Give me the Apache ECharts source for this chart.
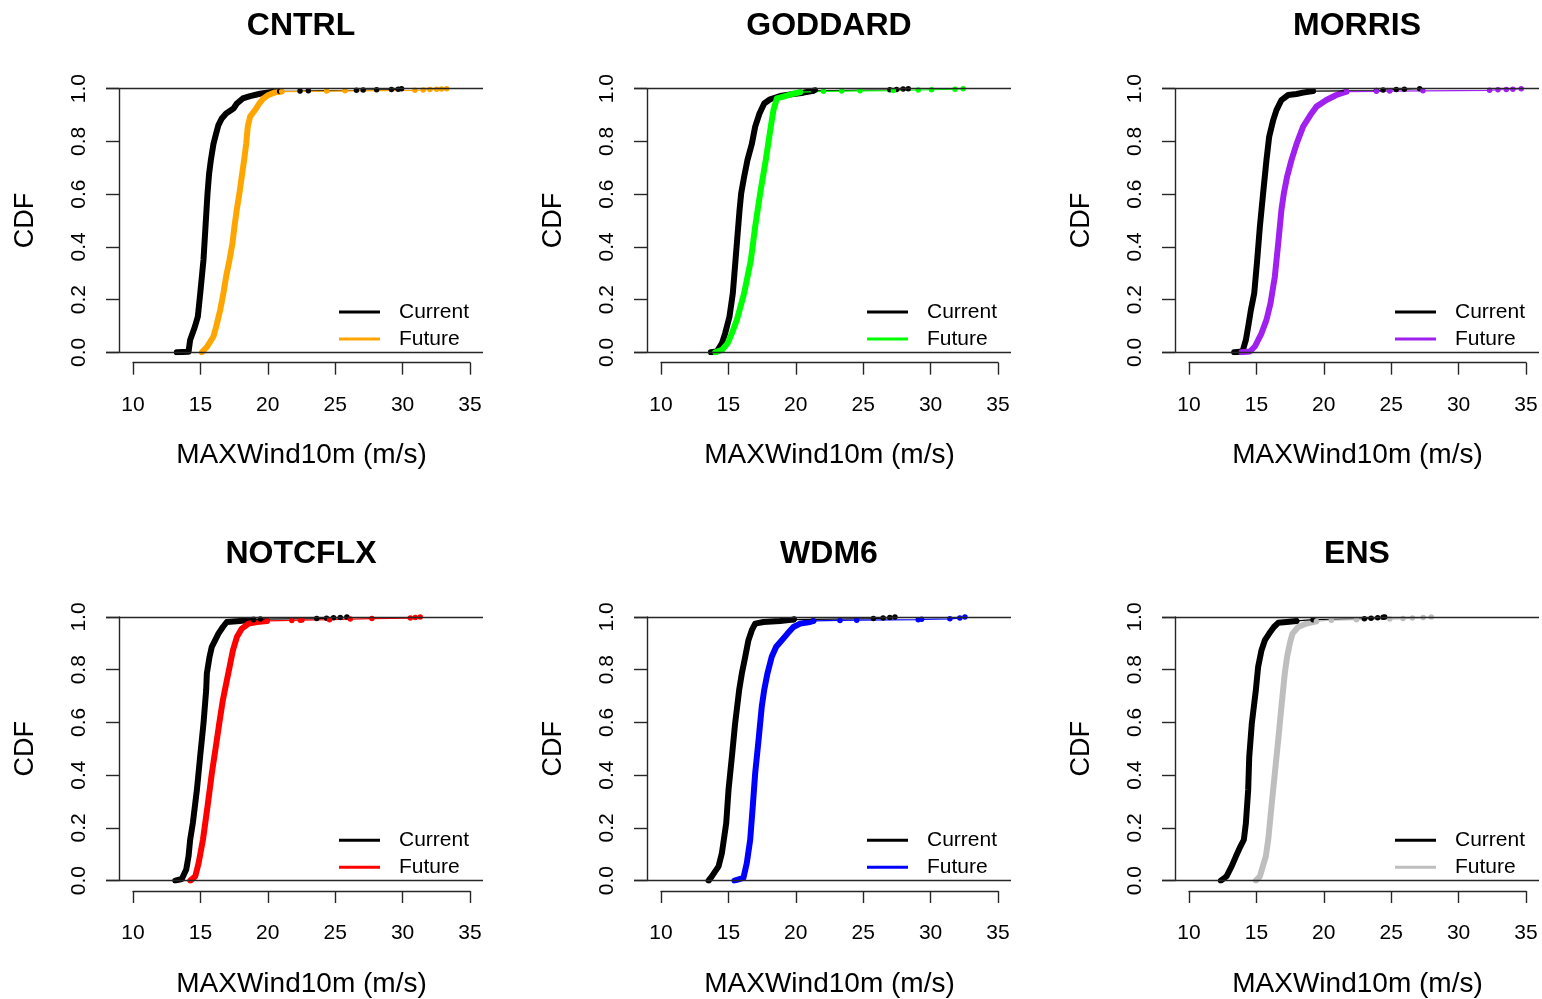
<!DOCTYPE html>
<html>
<head>
<meta charset="utf-8">
<script src="https://cdn.jsdelivr.net/npm/echarts@6/dist/echarts.min.js"></script>
<style>
  html, body { margin: 0; padding: 0; background: #ffffff; }
  #chart { width: 1542px; height: 999px; }
</style>
</head>
<body>
<div id="chart"></div>
<script>
// Panels, axis ticks and labels
const panels = ['CNTRL', 'GODDARD', 'MORRIS', 'NOTCFLX', 'WDM6', 'ENS'];
const xTicks = [10, 15, 20, 25, 30, 35];
const yTicks = [0.0, 0.2, 0.4, 0.6, 0.8, 1.0];
const seriesNames = ['Current', 'Future'];
const xLabel = 'MAXWind10m (m/s)';
const yLabel = 'CDF';

// Empirical CDF knots [max 10 m wind (m/s), F]: dense body, then the sparse upper tail
const cntrlCurrent = [[13.26,0],[14.13,0.002],[14.25,0.047],[14.6,0.097],[14.82,0.135],[15.0,0.224],[15.24,0.35],[15.39,0.477],[15.54,0.603],[15.66,0.679],[15.79,0.73],[15.98,0.79],[16.18,0.83],[16.35,0.862],[16.6,0.887],[16.92,0.906],[17.47,0.925],[17.72,0.944],[18.16,0.963],[18.7,0.972],[19.44,0.981],[20.19,0.987],[20.9,0.99]];
const cntrlCurrentTail = [[22.41,0.991],[23.03,0.992],[26.6,0.994],[27.1,0.995],[28.1,0.996],[29.2,0.997],[29.7,0.998],[29.95,1.0]];
const cntrlFuture = [[15.12,0],[15.49,0.02],[15.98,0.06],[16.18,0.097],[16.48,0.16],[16.72,0.224],[16.92,0.287],[17.17,0.35],[17.39,0.413],[17.54,0.477],[17.71,0.54],[17.91,0.603],[18.08,0.666],[18.26,0.73],[18.41,0.79],[18.53,0.856],[18.7,0.894],[19.07,0.919],[19.39,0.944],[19.69,0.963],[20.06,0.976],[20.56,0.986],[21.05,0.989]];
const cntrlFutureTail = [[24.39,0.991],[25.75,0.992],[30.94,0.994],[31.56,0.995],[32.06,0.997],[32.55,0.998],[32.92,0.999],[33.3,1.0]];

const goddardCurrent = [[13.71,0],[14.15,0.003],[14.53,0.034],[14.77,0.072],[15.09,0.135],[15.34,0.224],[15.54,0.35],[15.74,0.477],[15.84,0.54],[15.96,0.603],[16.18,0.666],[16.43,0.73],[16.75,0.79],[17.0,0.856],[17.32,0.906],[17.67,0.944],[18.11,0.96],[18.85,0.972],[19.84,0.98],[20.58,0.985],[21.33,0.992]];
const goddardCurrentTail = [[21.46,0.995],[27.0,0.996],[27.5,0.997],[27.99,0.999],[28.37,1.0]];
const goddardFuture = [[14.03,0],[14.53,0.009],[14.95,0.034],[15.27,0.072],[15.64,0.123],[16.18,0.224],[16.68,0.35],[17.0,0.477],[17.37,0.603],[17.79,0.73],[18.16,0.856],[18.36,0.919],[18.61,0.963],[19.1,0.97],[19.84,0.981],[20.34,0.987]];
const goddardFutureTail = [[22.07,0.99],[23.43,0.991],[24.79,0.992],[27.26,0.993],[29.11,0.995],[30.1,0.996],[31.84,0.998],[32.45,1.0]];

const morrisCurrent = [[13.36,0],[13.98,0.003],[14.23,0.047],[14.4,0.097],[14.6,0.16],[14.85,0.224],[15.07,0.35],[15.27,0.477],[15.51,0.603],[15.76,0.73],[15.96,0.818],[16.26,0.881],[16.5,0.919],[16.87,0.957],[17.37,0.976],[17.99,0.98],[18.48,0.985],[19.22,0.991]];
const morrisCurrentTail = [[23.92,0.993],[24.42,0.995],[25.4,0.997],[26.0,0.998],[27.14,1.0]];
const morrisFuture = [[13.91,0],[14.53,0.003],[14.9,0.022],[15.39,0.072],[15.76,0.123],[16.06,0.186],[16.38,0.287],[16.63,0.413],[16.87,0.54],[17.05,0.603],[17.29,0.666],[17.62,0.73],[17.99,0.79],[18.48,0.856],[19.1,0.906],[19.47,0.932],[20.21,0.957],[20.95,0.976],[21.7,0.989]];
const morrisFutureTail = [[23.92,0.99],[24.91,0.991],[27.38,0.992],[32.33,0.994],[32.95,0.996],[33.57,0.997],[34.06,0.998],[34.68,1.0]];

const notcflxCurrent = [[13.14,0],[13.63,0.006],[13.96,0.042],[14.13,0.092],[14.25,0.155],[14.45,0.218],[14.75,0.344],[14.99,0.47],[15.24,0.596],[15.44,0.723],[15.49,0.786],[15.69,0.849],[15.86,0.887],[16.11,0.912],[16.35,0.937],[16.68,0.962],[16.97,0.981],[17.47,0.983],[17.96,0.985],[18.96,0.99]];
const notcflxCurrentTail = [[19.46,0.992],[23.65,0.994],[24.38,0.995],[24.9,0.997],[25.4,0.998],[25.89,1.0]];
const notcflxFuture = [[14.26,0],[14.63,0.016],[14.88,0.067],[15.2,0.155],[15.54,0.281],[15.86,0.407],[16.23,0.533],[16.41,0.596],[16.68,0.685],[16.93,0.748],[17.18,0.811],[17.43,0.874],[17.72,0.924],[18.09,0.956],[18.59,0.975],[19.21,0.981],[19.95,0.985]];
const notcflxFutureTail = [[21.8,0.987],[22.43,0.988],[22.55,0.989],[24.6,0.99],[26.14,0.992],[27.75,0.994],[30.6,0.996],[30.97,0.998],[31.34,1.0]];

const wdm6Current = [[13.54,0],[13.78,0.016],[14.28,0.054],[14.53,0.105],[14.85,0.218],[15.02,0.344],[15.27,0.47],[15.51,0.596],[15.81,0.723],[16.01,0.786],[16.26,0.849],[16.5,0.912],[16.75,0.95],[17.0,0.975],[17.62,0.981],[18.85,0.985],[19.84,0.99]];
const wdm6CurrentTail = [[19.9,0.992],[25.78,0.994],[26.5,0.996],[27.0,0.998],[27.38,1.0]];
const wdm6Future = [[15.46,0],[16.13,0.01],[16.38,0.067],[16.63,0.155],[16.82,0.281],[17.0,0.407],[17.25,0.533],[17.49,0.66],[17.67,0.723],[17.91,0.786],[18.23,0.849],[18.56,0.887],[18.98,0.912],[19.4,0.937],[19.84,0.962],[20.34,0.975],[21.08,0.981],[21.33,0.985]];
const wdm6FutureTail = [[23.3,0.987],[24.54,0.988],[29.11,0.99],[29.36,0.991],[31.46,0.993],[32.2,0.996],[32.58,1.0]];

const ensCurrent = [[12.37,0],[12.79,0.016],[13.17,0.054],[13.49,0.092],[13.83,0.13],[14.08,0.155],[14.23,0.218],[14.4,0.344],[14.48,0.47],[14.67,0.596],[14.97,0.723],[15.14,0.811],[15.39,0.874],[15.64,0.912],[15.96,0.937],[16.31,0.962],[16.63,0.978],[17.25,0.981],[17.99,0.985]];
const ensCurrentTail = [[19.22,0.99],[23.03,0.993],[23.53,0.995],[24.02,0.997],[24.42,0.999],[24.54,1.0]];
const ensFuture = [[14.97,0],[15.27,0.016],[15.71,0.092],[15.89,0.155],[16.13,0.281],[16.38,0.407],[16.63,0.533],[16.87,0.66],[17.12,0.786],[17.29,0.849],[17.49,0.899],[17.69,0.937],[18.11,0.962],[18.73,0.975],[19.47,0.984]];
const ensFutureTail = [[20.58,0.988],[22.44,0.99],[24.91,0.992],[25.9,0.994],[26.6,0.996],[27.4,0.998],[28.0,1.0]];

// Curves per panel, in panel order: [current body, current tail, future body, future tail]
const panelCurves = [
  [cntrlCurrent, cntrlCurrentTail, cntrlFuture, cntrlFutureTail],
  [goddardCurrent, goddardCurrentTail, goddardFuture, goddardFutureTail],
  [morrisCurrent, morrisCurrentTail, morrisFuture, morrisFutureTail],
  [notcflxCurrent, notcflxCurrentTail, notcflxFuture, notcflxFutureTail],
  [wdm6Current, wdm6CurrentTail, wdm6Future, wdm6FutureTail],
  [ensCurrent, ensCurrentTail, ensFuture, ensFutureTail]
];

// Styling
const FONT = '"Liberation Sans", Arial, Helvetica, sans-serif';
const INK = '#000000';
const AXIS = '#262626';
const currentColor = '#000000';
const futureColors = ['#FFA500', '#00FF00', '#A020F0', '#FF0000', '#0000FF', '#BEBEBE'];

// Panel geometry (pixels)
const COL_STEP = 528, ROW_STEP = 528.3;
const PLOT_L = 106, PLOT_W = 377, PLOT_T = 88.7, PLOT_H = 263.6;
const X_PAD_LEFT = 2, X_PAD_RIGHT = 1;   // plotting region reaches past the tick span
const XAXIS_L = 133, XAXIS_W = 337, XAXIS_Y = 362.7;
const YAXIS_X = 119;

const option = {
  animation: false,
  backgroundColor: '#ffffff',
  textStyle: { fontFamily: FONT, color: INK },
  title: [], legend: [], grid: [], xAxis: [], yAxis: [], series: []
};

panels.forEach((name, i) => {
  const ox = (i % 3) * COL_STEP;
  const oy = Math.floor(i / 3) * ROW_STEP;
  const g = i * 3;
  const futColor = futureColors[i];
  const [curBody, curTail, futBody, futTail] = panelCurves[i];

  option.title.push({
    text: name, left: 301 + ox, top: 10 + oy, padding: 0,
    textAlign: 'center', textVerticalAlign: 'top',
    textStyle: { fontFamily: FONT, fontSize: 32, fontWeight: 'bold', color: INK, lineHeight: 32 }
  });

  // plotting region
  option.grid.push({ left: PLOT_L + ox, top: PLOT_T + oy, width: PLOT_W, height: PLOT_H });
  option.xAxis.push({ gridIndex: g, type: 'value', min: xTicks[0] - X_PAD_LEFT, max: xTicks[xTicks.length - 1] + X_PAD_RIGHT, show: false });
  option.yAxis.push({ gridIndex: g, type: 'value', min: yTicks[0], max: yTicks[yTicks.length - 1], show: false });

  // detached x axis spanning the tick range
  option.grid.push({ left: XAXIS_L + ox, top: XAXIS_Y - 20 + oy, width: XAXIS_W, height: 20 });
  option.xAxis.push({
    gridIndex: g + 1, type: 'value', position: 'bottom',
    min: xTicks[0], max: xTicks[xTicks.length - 1], interval: xTicks[1] - xTicks[0],
    axisLine: { show: true, lineStyle: { color: AXIS, width: 1.4 } },
    axisTick: { show: true, inside: false, length: 12, lineStyle: { color: AXIS, width: 1.4 } },
    axisLabel: { show: true, margin: 32, fontSize: 21, lineHeight: 21, color: INK, fontFamily: FONT },
    splitLine: { show: false },
    name: xLabel, nameLocation: 'middle', nameGap: 79,
    nameTextStyle: { fontSize: 28, lineHeight: 28, color: INK, fontFamily: FONT }
  });
  option.yAxis.push({ gridIndex: g + 1, type: 'value', show: false });

  // detached y axis
  option.grid.push({ left: YAXIS_X + ox, top: PLOT_T + oy, width: 20, height: PLOT_H });
  option.xAxis.push({ gridIndex: g + 2, type: 'value', show: false });
  option.yAxis.push({
    gridIndex: g + 2, type: 'value', position: 'left',
    min: yTicks[0], max: yTicks[yTicks.length - 1], interval: yTicks[1] - yTicks[0],
    axisLine: { show: true, lineStyle: { color: AXIS, width: 1.4 } },
    axisTick: { show: true, inside: false, length: 13, lineStyle: { color: AXIS, width: 1.4 } },
    axisLabel: { show: true, rotate: 90, margin: 29, fontSize: 21, lineHeight: 21, color: INK, fontFamily: FONT,
                 formatter: v => v.toFixed(1) },
    splitLine: { show: false },
    name: yLabel, nameLocation: 'middle', nameGap: 80, nameRotate: 90,
    nameTextStyle: { fontSize: 27, lineHeight: 27, color: INK, fontFamily: FONT }
  });

  const bodySeries = (sname, data, color, withRefLines) => {
    const s = {
      type: 'line', name: sname, xAxisIndex: g, yAxisIndex: g, data: data,
      symbol: 'none', silent: true, z: 3,
      lineStyle: { color: color, width: 6, cap: 'round', join: 'round' },
      itemStyle: { color: color }
    };
    if (withRefLines) {
      s.markLine = {
        silent: true, symbol: ['none', 'none'], label: { show: false },
        lineStyle: { color: AXIS, width: 1.4, type: 'solid' },
        emphasis: { disabled: true },
        data: [{ yAxis: yTicks[0] }, { yAxis: yTicks[yTicks.length - 1] }]
      };
    }
    return s;
  };
  const tailSeries = (sname, body, tail, color) => ({
    type: 'line', name: sname, xAxisIndex: g, yAxisIndex: g,
    data: [body[body.length - 1]].concat(tail),
    symbol: 'circle', symbolSize: 5.5, showSymbol: true, showAllSymbol: true, silent: true, z: 4,
    lineStyle: { color: color, width: 1.2 },
    itemStyle: { color: color }
  });

  option.series.push(bodySeries(seriesNames[0], curBody, currentColor, true));
  option.series.push(tailSeries(seriesNames[0], curBody, curTail, currentColor));
  option.series.push(bodySeries(seriesNames[1], futBody, futColor, false));
  option.series.push(tailSeries(seriesNames[1], futBody, futTail, futColor));

  option.legend.push({
    orient: 'vertical', left: 339 + ox, top: 301.5 + oy, padding: 0,
    icon: 'rect', itemWidth: 41, itemHeight: 3, itemGap: 6, selectedMode: false,
    textStyle: { fontFamily: FONT, fontSize: 21, lineHeight: 21, color: INK, padding: [0, 0, 0, 14] },
    data: [
      { name: seriesNames[0], itemStyle: { color: currentColor } },
      { name: seriesNames[1], itemStyle: { color: futColor } }
    ]
  });
});

const chart = echarts.init(document.getElementById('chart'), null, { renderer: 'canvas' });
chart.setOption(option);
</script>
</body>
</html>
